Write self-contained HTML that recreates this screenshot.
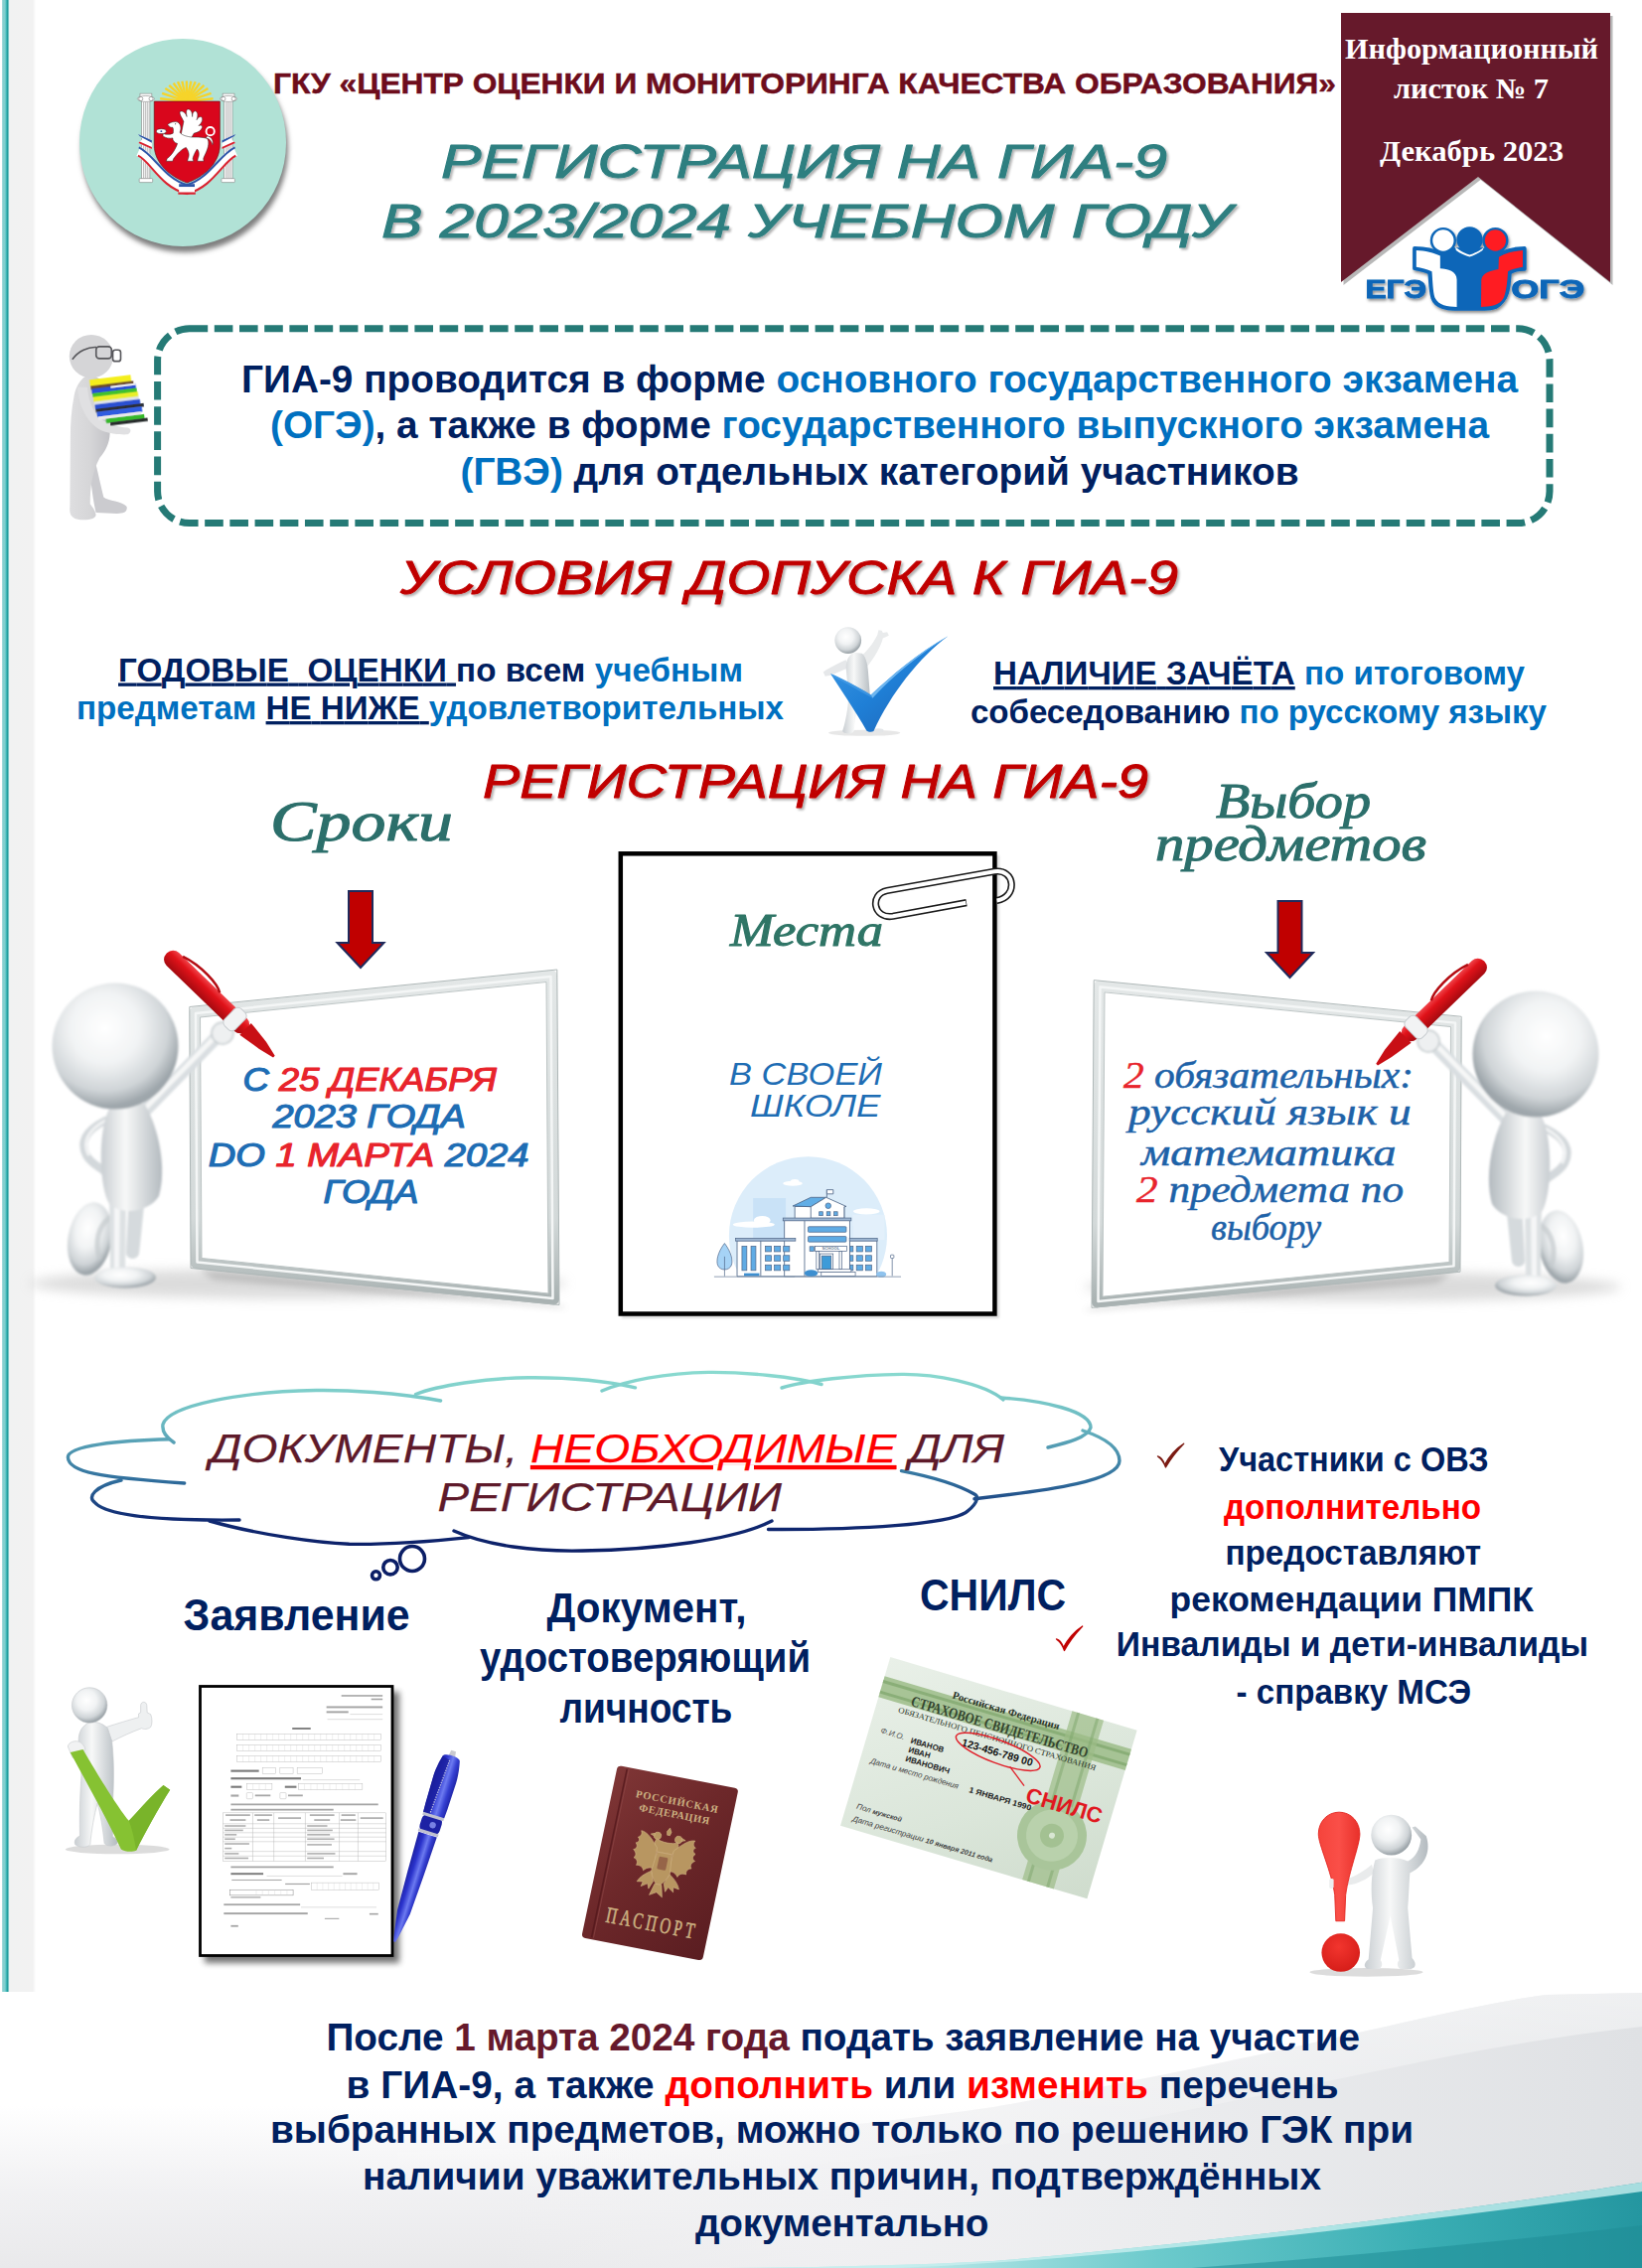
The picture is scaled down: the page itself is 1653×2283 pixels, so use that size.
<!DOCTYPE html>
<html lang="ru">
<head>
<meta charset="utf-8">
<title>Регистрация на ГИА-9</title>
<style>
*{margin:0;padding:0;box-sizing:border-box}
html,body{width:1653px;height:2283px;overflow:hidden;background:#fff}
body{position:relative;font-family:"Liberation Sans",sans-serif;color:#0a1f5c}
.abs{position:absolute}
.t{position:absolute;white-space:nowrap;line-height:1}
.c{text-align:center}
.b{font-weight:bold}
.navy{color:#0b1e5b}
.blue{color:#0a70c4}
.red{color:#ff0000}
.hand{font-family:"Liberation Sans",sans-serif;font-style:italic;font-weight:bold}
.script{font-family:"Liberation Serif",serif;font-style:italic;font-weight:bold}
u{text-decoration-thickness:3px;text-underline-offset:3px}
</style>
</head>
<body>
<!-- BACKGROUND -->
<div class="abs" id="bg-left" style="left:0;top:0;width:60px;height:2283px;background:linear-gradient(90deg,#ffffff 0px,#ffffff 1.6px,#a6dddd 2.2px,#86cece 3.2px,#7fcfcf 5px,#3fb8b8 6.4px,#1f9a9a 7.6px,#74c4c4 8.5px,#e6f1f1 9.3px,#f1f2f2 10.5px,#f2f2f2 33px,#fafafa 35px,#ffffff 36px)"></div>
<svg class="abs" id="bg-bottom" style="left:0;top:2000px" width="1653" height="283" viewBox="0 2000 1653 283">
<defs>
<linearGradient id="gw" gradientUnits="userSpaceOnUse" x1="500" y1="0" x2="1653" y2="0"><stop offset="0" stop-color="#f3f3f4" stop-opacity="0"/><stop offset=".3" stop-color="#f1f1f3" stop-opacity=".8"/><stop offset=".6" stop-color="#ebecee"/><stop offset="1" stop-color="#dfe1e4"/></linearGradient>
<linearGradient id="gl" gradientUnits="userSpaceOnUse" x1="0" y1="2120" x2="0" y2="2283"><stop offset="0" stop-color="#efeff1" stop-opacity="0"/><stop offset=".5" stop-color="#f0f0f2" stop-opacity=".9"/><stop offset="1" stop-color="#e9e9eb"/></linearGradient>
<linearGradient id="gt" gradientUnits="userSpaceOnUse" x1="900" y1="2283" x2="1653" y2="2200"><stop offset="0" stop-color="#bfeaea"/><stop offset=".35" stop-color="#6ccacc"/><stop offset=".7" stop-color="#3aaeb4"/><stop offset="1" stop-color="#2496a0"/></linearGradient>
<linearGradient id="gfade" x1="0" y1="0" x2="0" y2="1"><stop offset="0" stop-color="#fff" stop-opacity="1"/><stop offset="1" stop-color="#fff" stop-opacity="0"/></linearGradient>
</defs>
<rect x="0" y="2005" width="1653" height="278" fill="#fff"/>
<rect x="0" y="2120" width="1200" height="163" fill="url(#gl)"/>
<path d="M1653,2006 L1557,2008 C1450,2022 1300,2068 1000,2121 C800,2150 600,2160 400,2166 L400,2283 L1653,2283Z" fill="url(#gw)"/>
<path d="M1653,2006 L1557,2008 C1450,2022 1300,2068 1000,2121 C800,2150 600,2160 400,2166 L400,2200 C600,2194 800,2186 1000,2160 C1300,2110 1450,2062 1653,2040Z" fill="url(#gfade)" opacity=".5"/>
<path d="M1653,2196.800 C1500,2221 1250,2255 1000,2276 C900,2281 800,2283 700,2283 L1653,2283Z" fill="url(#gt)"/>
<path d="M1653,2196.800 C1500,2221 1250,2255 1000,2276 C900,2281 800,2283 700,2283 L900,2283 C1100,2276 1400,2240 1653,2206Z" fill="#c8efef" opacity=".8"/>
<path d="M1653,2240 C1500,2258 1350,2272 1200,2283 L1653,2283Z" fill="#1f8c96" opacity=".55"/>
</svg>

<!-- HEADER -->
<div class="abs" id="emblem-circle" style="left:79.800px;top:39px;width:208.600px;height:208.600px;border-radius:50%;background:#b1e2d6;box-shadow:2px 6px 5px rgba(0,0,0,.5)"></div>
<!--EMBLEM-->
<svg class="abs" id="emblem" style="left:120px;top:70px" width="130" height="130" viewBox="0 0 1642 1642">
<!-- sun -->
<g fill="#f6d42a">
<circle cx="857" cy="405" r="118"/>
<g stroke="#f6d42a" stroke-width="30">
<line x1="857" y1="405" x2="520" y2="370"/><line x1="857" y1="405" x2="545" y2="300"/><line x1="857" y1="405" x2="585" y2="240"/><line x1="857" y1="405" x2="635" y2="200"/><line x1="857" y1="405" x2="690" y2="172"/><line x1="857" y1="405" x2="745" y2="156"/><line x1="857" y1="405" x2="800" y2="148"/><line x1="857" y1="405" x2="857" y2="145"/><line x1="857" y1="405" x2="914" y2="148"/><line x1="857" y1="405" x2="969" y2="156"/><line x1="857" y1="405" x2="1024" y2="172"/><line x1="857" y1="405" x2="1079" y2="200"/><line x1="857" y1="405" x2="1129" y2="240"/><line x1="857" y1="405" x2="1169" y2="300"/><line x1="857" y1="405" x2="1194" y2="370"/>
</g></g>
<!-- columns -->
<g fill="#fff" stroke="#8a8a8a" stroke-width="8">
<rect x="285" y="400" width="105" height="990"/><rect x="1335" y="400" width="105" height="990"/>
<rect x="255" y="1385" width="170" height="50" rx="10"/><rect x="1300" y="1385" width="170" height="50" rx="10"/>
<rect x="265" y="305" width="150" height="40"/><rect x="1315" y="305" width="150" height="40"/>
<ellipse cx="340" cy="372" rx="108" ry="38"/><ellipse cx="1390" cy="372" rx="108" ry="38"/>
</g>
<g stroke="#8f8f8f" stroke-width="9"><line x1="312" y1="415" x2="312" y2="1380"/><line x1="338" y1="415" x2="338" y2="1380"/><line x1="364" y1="415" x2="364" y2="1380"/><line x1="1362" y1="415" x2="1362" y2="1380"/><line x1="1388" y1="415" x2="1388" y2="1380"/><line x1="1414" y1="415" x2="1414" y2="1380"/></g>
<g fill="none" stroke="#777" stroke-width="7"><circle cx="275" cy="372" r="26"/><circle cx="405" cy="372" r="26"/><circle cx="1325" cy="372" r="26"/><circle cx="1455" cy="372" r="26"/></g>
<!-- ribbon -->
<g fill="none" stroke-linecap="butt">
<path d="M245,1040 C420,1120 560,1450 860,1520 C1160,1450 1300,1120 1478,1040" stroke="#fff" stroke-width="120"/>
<path d="M250,990 C440,1080 590,1400 860,1465 C1130,1400 1280,1080 1472,990" stroke="#2d55a8" stroke-width="26"/>
<path d="M240,1095 C400,1170 530,1500 860,1580 C1190,1500 1320,1170 1482,1095" stroke="#d9222f" stroke-width="26"/>
</g>
<path d="M240,820 L415,900 L415,1010 L245,935 L300,880 Z" fill="#fff"/><path d="M240,820 L415,900 L415,930 L262,850Z" fill="#2d55a8"/><path d="M245,935 L415,1010 L415,985 L262,915Z" fill="#d9222f"/>
<path d="M1482,820 L1307,900 L1307,1010 L1477,935 L1422,880 Z" fill="#fff"/><path d="M1482,820 L1307,900 L1307,930 L1460,850Z" fill="#2d55a8"/><path d="M1477,935 L1307,1010 L1307,985 L1460,915Z" fill="#d9222f"/>
<rect x="760" y="1480" width="200" height="100" fill="#fff"/><rect x="760" y="1455" width="200" height="36" fill="#2d55a8"/><rect x="750" y="1560" width="220" height="28" fill="#d9222f"/>
<!-- shield -->
<path d="M445,405 L1280,405 L1280,960 C1280,1200 1060,1370 862,1440 C664,1370 445,1200 445,960 Z" fill="#d9061c" stroke="#6a0d12" stroke-width="8"/>
<!-- griffin -->
<g fill="#fff" stroke="#222" stroke-width="6" stroke-linejoin="round">
<path d="M1100,870 C1190,880 1180,980 1190,950 C1200,900 1170,850 1120,845 Z"/>
<circle cx="1158" cy="785" r="52" fill="none" stroke="#fff" stroke-width="24"/>
<path d="M820,660 C790,600 760,560 775,535 C810,520 850,560 860,600 C850,540 850,500 880,505 C920,510 930,560 930,600 C930,550 950,520 975,530 C1005,550 1000,600 985,640 C1010,600 1040,590 1055,615 C1065,650 1040,690 1010,715 C1040,700 1060,710 1055,740 C1040,780 1000,800 950,810 L900,900 L780,860 Z"/>
<path d="M615,700 C650,670 700,655 745,670 C790,700 790,760 770,800 C800,840 860,850 920,860 C1000,860 1080,860 1120,880 C1150,920 1130,990 1110,1040 C1095,1080 1075,1110 1070,1135 L1075,1165 L995,1165 L1000,1135 C1020,1090 1020,1040 990,1010 C960,1060 940,1100 935,1135 L945,1165 L868,1165 L875,1135 C900,1080 880,1030 850,990 C790,1010 730,1080 690,1135 L680,1165 L598,1165 L610,1130 C660,1100 720,1010 740,940 C700,930 680,900 680,870 C640,880 590,870 555,845 L560,815 C600,830 650,830 685,810 C690,780 690,750 680,735 C660,740 640,730 615,700 Z"/>
<ellipse cx="535" cy="785" rx="62" ry="30"/>
</g>
<circle cx="535" cy="785" r="12" fill="#2d55a8"/><circle cx="715" cy="692" r="7" fill="#222"/>
</svg>
<!-- BANNER -->
<svg class="abs" id="banner" style="left:1340px;top:0px" width="300" height="300" viewBox="1340 0 300 300">
<polygon points="1350,13 1621,13 1621,284 1488,178 1350,284" fill="#000" opacity=".28" transform="translate(2.5,3)"/>
<polygon points="1350,13 1621,13 1621,284 1488,178 1350,284" fill="#66192b"/>
</svg>
<!--EGELOGO-->
<svg class="abs" id="egelogo" style="left:1360px;top:210px" width="250" height="120" viewBox="0 0 1642 788">
<defs><filter id="egs" x="-10%" y="-10%" width="120%" height="130%"><feDropShadow dx="8" dy="14" stdDeviation="9" flood-color="#000" flood-opacity=".45"/></filter></defs>
<g filter="url(#egs)">
<g fill="#0a66b8" font-family="'Liberation Sans',sans-serif" font-weight="bold" font-size="172" stroke="#0a66b8" stroke-width="6">
<text x="95" y="590" textLength="405" lengthAdjust="spacingAndGlyphs">ЕГЭ</text>
<text x="1060" y="590" textLength="485" lengthAdjust="spacingAndGlyphs">ОГЭ</text>
</g>
<path d="M420,262 C480,262 550,275 592,300 L592,270 L975,270 L975,305 C1020,280 1090,262 1148,262 L1148,400 C1110,400 1070,410 1050,425 C1045,520 1040,600 960,650 C920,665 880,662 860,662 L700,662 C640,665 560,650 540,590 C525,540 525,470 520,425 C495,410 450,400 420,395 Z" fill="#0a66b8" stroke="#0a66b8" stroke-width="24" stroke-linejoin="round"/>
<path d="M432,275 C490,278 550,290 590,312 L590,395 C640,400 700,410 700,470 L700,650 C640,650 580,640 555,590 C540,540 540,470 535,415 C505,400 465,390 432,385 Z" fill="#fff"/>
<path d="M1136,275 C1080,280 1020,295 978,320 L975,400 C930,410 870,420 862,470 L860,650 C920,650 985,640 1010,590 C1030,540 1035,470 1038,415 C1065,400 1105,390 1136,385 Z" fill="#ff1a22"/>
<circle cx="610" cy="210" r="78" fill="#fff" stroke="#0a66b8" stroke-width="16"/>
<circle cx="955" cy="210" r="78" fill="#ff1a22" stroke="#0a66b8" stroke-width="16"/>
<circle cx="785" cy="205" r="86" fill="#0a66b8"/>
<path d="M690,255 C730,285 760,300 785,305 C810,300 850,280 880,255 L870,275 C840,295 810,312 785,318 C760,312 720,295 695,275 Z" fill="#fff"/>
</g>
</svg>
<!-- DASHED BOX -->
<svg class="abs" id="dbox" style="left:150px;top:322px" width="1425" height="216" viewBox="150 322 1425 216">
<rect x="158.600" y="330.800" width="1401.400" height="195.800" rx="32" ry="32" fill="none" stroke="#257a76" stroke-width="7" stroke-dasharray="18.600 6.600"/>
</svg>
<!--GRAPHICS-->
<svg class="abs" id="gfx" style="left:0;top:0" width="1653" height="2283" viewBox="0 0 1653 2283">
<defs>
<radialGradient id="sph" cx=".42" cy=".36" r=".62"><stop offset="0" stop-color="#ffffff"/><stop offset=".45" stop-color="#f1f3f4"/><stop offset=".8" stop-color="#cfd4d7"/><stop offset="1" stop-color="#9ea6ab"/></radialGradient>
<radialGradient id="sphR" cx=".58" cy=".36" r=".62"><stop offset="0" stop-color="#ffffff"/><stop offset=".45" stop-color="#f1f3f4"/><stop offset=".8" stop-color="#cfd4d7"/><stop offset="1" stop-color="#9ea6ab"/></radialGradient>
<linearGradient id="bod" x1="0" y1="0" x2="1" y2="0"><stop offset="0" stop-color="#c9ced2"/><stop offset=".4" stop-color="#f7f8f8"/><stop offset="1" stop-color="#b4bbc0"/></linearGradient>
<linearGradient id="bodR" x1="1" y1="0" x2="0" y2="0"><stop offset="0" stop-color="#c9ced2"/><stop offset=".4" stop-color="#f7f8f8"/><stop offset="1" stop-color="#b4bbc0"/></linearGradient>
<linearGradient id="gry" x1="0" y1="0" x2="1" y2="0"><stop offset="0" stop-color="#dcdcde"/><stop offset=".5" stop-color="#d2d2d4"/><stop offset="1" stop-color="#c4c4c7"/></linearGradient>
<linearGradient id="penr" x1="0" y1="0" x2="0" y2="1"><stop offset="0" stop-color="#f0444a"/><stop offset=".35" stop-color="#e01219"/><stop offset="1" stop-color="#a50a10"/></linearGradient>
<linearGradient id="chk" x1="0" y1="0" x2="1" y2="1"><stop offset="0" stop-color="#3f9be6"/><stop offset=".5" stop-color="#1f7fd6"/><stop offset="1" stop-color="#1f5fb0"/></linearGradient>
<linearGradient id="frm" x1="0" y1="0" x2="0" y2="1"><stop offset="0" stop-color="#e3e7e7"/><stop offset=".75" stop-color="#d3d9d9"/><stop offset="1" stop-color="#a9b2b2"/></linearGradient>
<filter id="blur6" x="-20%" y="-50%" width="140%" height="200%"><feGaussianBlur stdDeviation="6"/></filter>
<filter id="blur3" x="-20%" y="-20%" width="140%" height="140%"><feGaussianBlur stdDeviation="3"/></filter>
<filter id="blur1"><feGaussianBlur stdDeviation=".8"/></filter>
</defs>

<!-- C: figure with books -->
<svg x="50" y="320" width="120" height="220" viewBox="0 0 1237 2268">
<defs><linearGradient id="bm" x1="0" y1="0" x2="1" y2="0"><stop offset="0" stop-color="#dedee0"/><stop offset=".5" stop-color="#d6d6d8"/><stop offset="1" stop-color="#c2c2c6"/></linearGradient></defs>
<g filter="url(#blur6)">
<path d="M420,1300 C480,1500 520,1700 560,1860 C600,1900 760,1900 800,1960 C810,2010 770,2030 700,2030 L480,2020 C450,1900 430,1700 400,1500Z" fill="#cbcbcf"/>
<path d="M400,590 C330,620 275,700 255,800 C225,950 215,1100 215,1250 L210,1960 C200,2040 230,2090 320,2095 C420,2100 480,2080 480,2040 C470,1990 440,1960 420,1930 C420,1750 440,1600 520,1450 C580,1380 620,1300 625,1200 L600,800 C580,680 520,600 400,590Z" fill="url(#bm)"/>
<path d="M290,720 C300,900 380,1080 520,1160 C600,1200 720,1215 810,1210 C850,1190 850,1150 810,1140 C700,1130 600,1100 520,1040 C440,960 400,840 390,720Z" fill="#e0e0e2"/>
<ellipse cx="432" cy="398" rx="228" ry="224" fill="#d5d5d7"/>
</g>
<g transform="rotate(-7 700 850)" filter="url(#blur3)">
<rect x="440" y="610" width="430" height="70" fill="#f4ee1c"/><rect x="445" y="675" width="445" height="40" fill="#6b4a2a"/><rect x="450" y="705" width="460" height="55" fill="#2a4fd6"/><rect x="650" y="700" width="260" height="22" fill="#e6e9f2"/><rect x="455" y="752" width="460" height="42" fill="#3fc02f"/><rect x="458" y="790" width="465" height="55" fill="#e9ee2b"/><rect x="460" y="840" width="465" height="36" fill="#dfe2ea"/><rect x="465" y="872" width="470" height="52" fill="#2a50d0"/><rect x="468" y="918" width="500" height="36" fill="#2b2f38"/><rect x="475" y="950" width="470" height="55" fill="#2f5be0"/><rect x="480" y="1000" width="450" height="36" fill="#e8e8ea"/><rect x="560" y="1032" width="400" height="46" fill="#35b82a"/><rect x="600" y="1074" width="390" height="34" fill="#26292c"/>
</g>
<g fill="none" stroke="#58585c" stroke-width="17" filter="url(#blur3)"><path d="M235,430 C300,340 400,300 485,305"/><rect x="482" y="297" width="160" height="125" rx="34"/><rect x="655" y="332" width="82" height="118" rx="26"/></g>
</svg>

<!-- D: checkmark figure -->
<svg x="800" y="615" width="180" height="145" viewBox="0 0 1642 1323">
<ellipse cx="640" cy="1120" rx="330" ry="28" fill="#bbb" opacity=".35" filter="url(#blur6)"/>
<g filter="url(#blur3)">
<ellipse cx="770" cy="1100" rx="48" ry="20" fill="#e4e6e8"/>
<path d="M470,450 C420,470 350,510 290,540 L262,560 L280,600 L330,590 C390,570 450,540 500,520Z" fill="#e6e8ea"/>
<path d="M600,420 C660,380 720,300 760,220 L770,175 L800,180 L810,200 L850,195 L865,225 L810,250 C790,330 730,430 660,520Z" fill="#e9ebec"/>
<path d="M540,380 C480,420 465,480 475,560 C485,680 500,760 490,850 C480,950 460,1040 440,1100 C440,1135 540,1135 545,1100 C550,1020 560,940 580,880 L700,880 L675,560 C670,480 650,420 620,390Z" fill="url(#bod)"/>
<circle cx="490" cy="270" r="122" fill="url(#sph)"/>
</g>
<path d="M330,578 C420,610 580,700 700,770 C880,600 1140,380 1410,230 C1150,420 880,760 725,1105 C705,1115 675,1112 660,1100 C570,940 420,720 330,578Z" fill="url(#chk)"/>
<path d="M700,770 C880,600 1140,380 1410,230 C1140,400 900,600 715,800Z" fill="#7cc0f5" opacity=".85"/>
<path d="M330,578 C420,610 580,700 700,770 L715,800 C600,740 450,650 345,600Z" fill="#4aa0ea" opacity=".6"/>
</svg>

<!-- E: left whiteboard -->
<g id="boardL">
<rect x="43" y="950" width="530" height="372" fill="#fff"/>
<ellipse cx="300" cy="1292" rx="270" ry="15" fill="#b8b8b8" opacity=".5" filter="url(#blur6)"/>
<path d="M200,1277 L560,1313 L572,1317 L215,1288Z" fill="#777" opacity=".3" filter="url(#blur3)"/>
<polygon points="196,1019 555.500,982 557.500,1308 197.500,1271.500" fill="#fff" stroke="url(#frm)" stroke-width="11" stroke-linejoin="round"/>
<polygon points="190.800,1013.500 560.800,976 563,1313.500 192,1276.500" fill="none" stroke="#aeb7b7" stroke-width="1" stroke-linejoin="round"/>
<polygon points="201.500,1024 550,988.500 552,1302 203,1266.500" fill="none" stroke="#bcc4c4" stroke-width="1"/>
<polygon points="197,1020 554.500,983 556.500,1307 198.500,1270.500" fill="none" stroke="#f4f6f6" stroke-width="2.500" stroke-linejoin="round"/>
</g>
<g id="figL">
<g filter="url(#blur1)">
<path d="M106,1128 C86,1138 80,1150 87,1163 C92,1172 100,1174 106,1180" fill="none" stroke="#d3d8db" stroke-width="8" stroke-linecap="round"/>
<path d="M106,1128 C88,1138 83,1150 89,1162" fill="none" stroke="#f3f4f5" stroke-width="3" stroke-linecap="round"/>
<path d="M130,1200 L146,1204 L140,1262 C138,1270 126,1268 127,1260Z" fill="#d5dadd"/>
<ellipse cx="90.500" cy="1247" rx="22" ry="37" fill="url(#sph)" transform="rotate(10 90.500 1247)"/>
<path d="M110,1226 C99,1234 95,1250 100,1266" fill="none" stroke="#c4cacd" stroke-width="5" stroke-linecap="round" opacity=".7"/>
<path d="M140,1124 L222,1040" stroke="#d9dee1" stroke-width="13" stroke-linecap="round"/>
<path d="M142,1120 L221,1039" stroke="#f6f7f7" stroke-width="5" stroke-linecap="round"/>
<path d="M110,1205 L127,1205 L126,1280 L111,1280Z" fill="#dde1e3"/>
<path d="M115,1205 L121,1205 L120,1280 L115,1280Z" fill="#f5f6f7"/>
<ellipse cx="126" cy="1286" rx="31" ry="10.500" fill="url(#sph)"/>
<path d="M110,1116 C98,1140 100,1196 110,1212 C124,1224 150,1220 160,1204 C168,1176 160,1136 146,1112 C134,1106 118,1108 110,1116Z" fill="url(#bod)"/>
<circle cx="116" cy="1053" r="63.500" fill="url(#sph)"/>
<circle cx="224" cy="1040" r="11" fill="#eef0f1" stroke="#c5cbce" stroke-width="1.500"/>
</g>
<!-- pen -->
<g transform="translate(171,962) rotate(44)">
<rect x="-4" y="-8.500" width="112" height="18" rx="8.500" fill="url(#penr)"/>
<path d="M106,-8 L130,-5 L146,-1 L146,1.500 L130,5 L106,8.500Z" fill="#c80f15"/>
<path d="M10,-8.500 C30,-15 55,-13 62,-8" fill="none" stroke="#b30c12" stroke-width="2.500"/>
<rect x="84" y="-11.500" width="15" height="24" rx="5" fill="#f2f3f4" stroke="#c8cdd0" stroke-width="1"/>
</g>
</g>
<!--GFX2-->
<!-- G: right whiteboard (mirror of left) -->
<use href="#boardL" transform="translate(1662,33.100) scale(-1,.977)"/>
<use href="#figL" transform="translate(1662,8) scale(-1,1)"/>

<!-- F: center paper -->
<g id="paper">
<rect x="626" y="861" width="380" height="466" fill="#999" opacity=".35" filter="url(#blur1)"/>
<rect x="624.800" y="859.300" width="376.600" height="463.200" fill="#fff" stroke="#000" stroke-width="4.500"/>
<path d="M973,908.600 L899,922.300 C879,925.500 875,900 893,896.500 L1001,877.300 C1022,874 1025,903 1003.500,906.500" fill="none" stroke="#1a1a1a" stroke-width="7.200" stroke-linecap="butt"/>
<path d="M972.400,908.700 L899,922.300 C879,925.500 875,900 893,896.500 L1001,877.300 C1022,874 1025,903 1003.500,906.500" fill="none" stroke="#fff" stroke-width="4" stroke-linecap="butt"/>
</g>
<!-- school -->
<svg x="700" y="1150" width="230" height="150" viewBox="0 0 1642 1071">
<defs><clipPath id="skyc"><rect x="0" y="0" width="1642" height="962"/></clipPath></defs>
<circle cx="810" cy="670" r="568" fill="#dcedfa" clip-path="url(#skyc)"/>
<rect x="415" y="400" width="235" height="300" fill="#c9e2f7"/><rect x="1130" y="600" width="80" height="95" fill="#c9e2f7"/><rect x="1130" y="520" width="230" height="180" fill="#e3f0fb"/>
<g fill="#fff"><ellipse cx="700" cy="295" rx="70" ry="18"/><ellipse cx="715" cy="280" rx="30" ry="16"/><ellipse cx="420" cy="590" rx="150" ry="22"/><ellipse cx="480" cy="560" rx="60" ry="32"/><ellipse cx="1230" cy="495" rx="95" ry="22"/></g>
<g stroke="#4f6688" stroke-width="6" fill="#fff" stroke-linejoin="round">
<rect x="300" y="705" width="415" height="258"/><rect x="1110" y="705" width="195" height="258"/>
<rect x="640" y="560" width="470" height="403"/>
<rect x="715" y="460" width="355" height="90"/>
<polygon points="700,457 830,395 940,395 830,462" fill="#62aee6"/>
<polygon points="830,462 940,395 1085,460 1070,462 1070,545 830,545" />
<line x1="470" y1="705" x2="470" y2="960"/><line x1="785" y1="560" x2="785" y2="960"/>
<line x1="945" y1="340" x2="945" y2="396"/><rect x="945" y="340" width="46" height="30"/>
</g>
<g fill="#9db6d2" stroke="#4f6688" stroke-width="5"><rect x="290" y="688" width="430" height="20"/><rect x="1108" y="688" width="200" height="20"/><rect x="630" y="543" width="490" height="20"/></g>
<g fill="#5fabe4" stroke="#4f6688" stroke-width="5">
<rect x="335" y="745" width="35" height="175"/><rect x="400" y="745" width="35" height="175"/>
<rect x="503" y="745" width="44" height="40"/><rect x="568" y="745" width="44" height="40"/><rect x="633" y="745" width="44" height="40"/>
<rect x="503" y="812" width="44" height="40"/><rect x="568" y="812" width="44" height="40"/><rect x="633" y="812" width="44" height="40"/>
<rect x="503" y="880" width="44" height="40"/><rect x="568" y="880" width="44" height="40"/><rect x="633" y="880" width="44" height="40"/>
<rect x="1158" y="745" width="44" height="40"/><rect x="1223" y="745" width="44" height="40"/><rect x="1158" y="812" width="44" height="40"/><rect x="1223" y="812" width="44" height="40"/><rect x="1158" y="880" width="44" height="40"/><rect x="1223" y="880" width="44" height="40"/>
<rect x="1112" y="745" width="22" height="40"/><rect x="1112" y="812" width="22" height="40"/><rect x="1112" y="880" width="22" height="40"/>
<rect x="810" y="605" width="275" height="40" rx="6"/><rect x="810" y="675" width="275" height="40" rx="6"/>
<rect x="890" y="498" width="26" height="28"/><rect x="944" y="498" width="26" height="28"/><rect x="996" y="498" width="26" height="28"/>
<circle cx="955" cy="455" r="20"/>
<rect x="822" y="748" width="30" height="34"/>
</g>
<g stroke="#4f6688" stroke-width="5" fill="#fff"><rect x="860" y="745" width="228" height="36"/><rect x="870" y="782" width="20" height="130"/><rect x="1035" y="782" width="18" height="130"/><rect x="895" y="800" width="95" height="112"/><rect x="880" y="912" width="240" height="20"/><rect x="905" y="932" width="245" height="28"/></g>
<rect x="908" y="815" width="68" height="96" fill="#3d9bd8" stroke="#4f6688" stroke-width="5"/>
<text x="974" y="774" font-family="'Liberation Sans',sans-serif" font-size="30" font-weight="bold" fill="#6d7f99" text-anchor="middle">SCHOOL</text>
<g stroke="#4f6688" stroke-width="5"><path d="M210,725 C160,790 150,850 160,880 C175,925 245,925 260,880 C270,850 260,790 210,725Z" fill="#a6d3f6"/><line x1="210" y1="820" x2="210" y2="962"/><line x1="1415" y1="832" x2="1415" y2="960"/><rect x="1403" y="808" width="24" height="24" rx="5" fill="#fff"/></g>
<ellipse cx="1336" cy="948" rx="36" ry="22" fill="#8fc3ee"/><ellipse cx="832" cy="940" rx="48" ry="24" fill="#3d8fd0"/><rect x="350" y="940" width="110" height="20" fill="#3d8fd0"/>
<line x1="135" y1="965" x2="1478" y2="965" stroke="#7c8da6" stroke-width="6"/>
</svg>

<!-- H: cloud -->
<defs><linearGradient id="cl" gradientUnits="userSpaceOnUse" x1="0" y1="1380" x2="0" y2="1565"><stop offset="0" stop-color="#8adbd0"/><stop offset=".3" stop-color="#68b6c0"/><stop offset=".6" stop-color="#2f6d9c"/><stop offset=".8" stop-color="#102a72"/><stop offset="1" stop-color="#0b1e66"/></linearGradient></defs>
<g id="cloud" fill="none" stroke="url(#cl)" stroke-width="3.400" stroke-linecap="round">
<path d="M1008,1407 C1050,1410 1098,1420 1098,1437 C1095,1447 1075,1452 1055,1457 L1055,1540 L773,1540 L586,1561 L457,1541 L351,1554 L211,1531 L122,1490 L175,1452 L164,1433 L443,1410 Z" fill="#fff" stroke="none"/>
<path d="M170.600,1448.800 C120,1450 68,1455 68.400,1467 C69,1482 100,1487 185.700,1493"/>
<path d="M122,1490 C95,1496 88,1507 95,1512 C105,1524 150,1531 241,1530"/>
<path d="M211,1531 C260,1545 320,1553 351.500,1554.300 C400,1555 440,1551 472,1547.600"/>
<path d="M457,1541 C490,1556 540,1562 586,1561 C660,1560 740,1550 777,1531"/>
<path d="M773.500,1539.500 C860,1540 960,1535 974.500,1520.800 C985,1512 985,1506 981,1504 C960,1492 930,1485 907.500,1480.600"/>
<path d="M981,1508.700 C1060,1500 1127,1490 1127,1470.500 C1127,1455 1105,1445 1090,1440"/>
<path d="M1055,1457 C1075,1452 1095,1447 1098,1437 C1098,1420 1050,1410 1008,1407"/>
<path d="M1010,1409 C990,1392 940,1383 907.500,1383.400 C860,1384 810,1390 787,1397"/>
<path d="M827,1393.500 C800,1386 750,1381 713,1381.400 C670,1382 630,1390 606,1400"/>
<path d="M639.500,1396.800 C610,1390 570,1386.500 532,1386.800 C490,1387 440,1395 418.500,1403.500"/>
<path d="M443.600,1410 C400,1402 350,1399 318,1399.500 C240,1401 170,1415 164,1433.700 C163,1440 166,1446 175,1452"/>
<g stroke="#0b1e66" stroke-width="3.600" fill="#fff"><circle cx="415" cy="1569" r="12.500"/><circle cx="393" cy="1577.700" r="7.200"/><circle cx="378.500" cy="1585.800" r="4"/></g>
</g>

<!-- N: bullet checks -->
<path d="M1165.500,1466 C1168,1466.500 1171,1470 1172.500,1474.500 C1177,1466 1184,1458 1191.700,1453.200 C1185,1460 1178,1469 1173.500,1477 C1172,1473 1169,1468.500 1165.500,1466Z" fill="#7b1a12" stroke="#7b1a12" stroke-width="1.300" stroke-linejoin="round"/>
<path d="M1063.500,1650 C1066,1650.500 1069,1654 1070.500,1658.500 C1075,1650 1082,1642 1089.700,1637 C1083,1644 1076,1653 1071.500,1661.500 C1070,1657 1067,1652.500 1063.500,1650Z" fill="#c00000" stroke="#c00000" stroke-width="1.300" stroke-linejoin="round"/>
<!--GFX3-->
<!-- I: thumbs-up figure with green check -->
<svg x="50" y="1680" width="200" height="210" viewBox="0 0 1642 1724">
<ellipse cx="560" cy="1490" rx="430" ry="40" fill="#aaa" opacity=".4" filter="url(#blur6)"/>
<g filter="url(#blur3)" stroke="#c6cacd" stroke-width="5">
<path d="M470,480 C560,450 660,420 735,400 L735,370 L752,360 L752,300 C755,265 800,265 803,300 L806,360 L835,375 C850,410 848,460 835,480 C810,500 780,500 760,490 C680,520 590,560 515,600Z" fill="#eef0f1"/>
<path d="M330,440 C270,470 235,520 240,600 C245,700 260,800 262,880 C255,1000 245,1150 250,1380 C215,1395 200,1420 210,1450 C240,1480 320,1478 335,1450 C345,1330 370,1200 395,1110 C420,1200 440,1320 452,1440 C470,1470 540,1470 560,1440 C565,1415 545,1395 522,1385 L522,1100 C530,950 535,780 515,600 L480,490 C440,450 380,430 330,440Z" fill="url(#bod)"/>
<circle cx="330" cy="300" r="146" fill="url(#sph)"/>
<path d="M150,640 C160,605 200,590 240,600 C270,610 290,640 295,665 L190,735Z" fill="#f1f2f3"/>
</g>
<path d="M170,690 L275,665 C400,880 560,1140 655,1255 C740,1160 860,1030 940,960 L995,1000 C900,1150 790,1350 715,1500 C680,1515 620,1510 590,1490 C480,1250 300,930 170,690Z" fill="#86c232"/>
<path d="M655,1255 C740,1160 860,1030 940,960 L995,1000 C900,1150 790,1350 715,1500 C700,1400 680,1320 655,1255Z" fill="#79b42a"/>
</svg>

<!-- J: application form -->
<g id="form">
<rect x="206" y="1703" width="196" height="273" fill="#000" opacity=".55" filter="url(#blur3)"/>
<rect x="201.500" y="1697.500" width="193.500" height="271" fill="#fff" stroke="#000" stroke-width="2.800"/>
<svg x="190" y="1680" width="290" height="310" viewBox="0 0 1642 1755">
<g fill="#a5a5a5"><rect x="870" y="148" width="235" height="9"/><rect x="1040" y="168" width="65" height="9"/><rect x="785" y="212" width="320" height="11"/><rect x="785" y="240" width="125" height="11"/><rect x="590" y="335" width="105" height="9" fill="#666"/>
<rect x="240" y="575" width="160" height="12" fill="#7a7a7a"/><rect x="240" y="618" width="400" height="12" fill="#7a7a7a"/><rect x="240" y="666" width="62" height="12" fill="#7a7a7a"/><rect x="548" y="666" width="66" height="12" fill="#7a7a7a"/><rect x="240" y="716" width="45" height="12"/><rect x="378" y="716" width="88" height="10"/><rect x="566" y="716" width="84" height="10"/>
<rect x="240" y="767" width="840" height="10"/><rect x="240" y="797" width="585" height="10"/>
<rect x="240" y="1124" width="585" height="10"/><rect x="240" y="1162" width="185" height="11" fill="#7a7a7a"/><rect x="880" y="1162" width="80" height="11"/><rect x="245" y="1200" width="285" height="6" fill="#aaa"/><rect x="550" y="1222" width="140" height="7"/><rect x="240" y="1298" width="170" height="7"/>
<rect x="200" y="1338" width="435" height="10"/><rect x="200" y="1388" width="478" height="11"/><rect x="1030" y="1392" width="50" height="9"/><rect x="775" y="1420" width="82" height="6"/><rect x="240" y="1460" width="42" height="10"/></g>
<g stroke="#b5b5b5" stroke-width="2.5" fill="none">
<line x1="920" y1="258" x2="1105" y2="258"/><line x1="790" y1="287" x2="1105" y2="287"/>
<rect x="275" y="370" width="820" height="35"/><rect x="275" y="432" width="820" height="35"/><rect x="275" y="495" width="820" height="35"/>
<rect x="420" y="563" width="75" height="34"/><rect x="520" y="563" width="75" height="34"/><rect x="618" y="563" width="142" height="34"/>
<line x1="650" y1="632" x2="975" y2="632"/><rect x="330" y="655" width="145" height="34"/><rect x="625" y="655" width="365" height="34"/>
<rect x="330" y="705" width="35" height="35" rx="5"/><rect x="520" y="705" width="35" height="35" rx="5"/>
<rect x="195" y="820" width="930" height="275"/>
<line x1="365" y1="820" x2="365" y2="1095"/><line x1="485" y1="820" x2="485" y2="1095"/><line x1="665" y1="820" x2="665" y2="1095"/><line x1="858" y1="820" x2="858" y2="1095"/><line x1="965" y1="820" x2="965" y2="1095"/>
<line x1="195" y1="882" x2="1125" y2="882"/><line x1="195" y1="908" x2="1125" y2="908"/><line x1="195" y1="933" x2="1125" y2="933"/><line x1="195" y1="958" x2="1125" y2="958"/><line x1="195" y1="984" x2="1125" y2="984"/><line x1="195" y1="1040" x2="1125" y2="1040"/><line x1="195" y1="1066" x2="1125" y2="1066"/>
<line x1="445" y1="1180" x2="875" y2="1180"/><rect x="700" y="1218" width="385" height="42"/><rect x="235" y="1258" width="360" height="32" stroke="#777"/><line x1="640" y1="1358" x2="1070" y2="1358"/>
</g>
<g stroke="#d0d0d0" stroke-width="2"><path d="M309,370v35m34,-35v35m34,-35v35m34,-35v35m34,-35v35m34,-35v35m34,-35v35m34,-35v35m34,-35v35m34,-35v35m34,-35v35m34,-35v35m34,-35v35m34,-35v35m34,-35v35m34,-35v35m34,-35v35m34,-35v35m34,-35v35m34,-35v35m34,-35v35m34,-35v35m34,-35v35" fill="none"/><path d="M309,432v35m34,-35v35m34,-35v35m34,-35v35m34,-35v35m34,-35v35m34,-35v35m34,-35v35m34,-35v35m34,-35v35m34,-35v35m34,-35v35m34,-35v35m34,-35v35m34,-35v35m34,-35v35m34,-35v35m34,-35v35m34,-35v35m34,-35v35m34,-35v35m34,-35v35m34,-35v35" fill="none"/><path d="M309,495v35m34,-35v35m34,-35v35m34,-35v35m34,-35v35m34,-35v35m34,-35v35m34,-35v35m34,-35v35m34,-35v35m34,-35v35m34,-35v35m34,-35v35m34,-35v35m34,-35v35m34,-35v35m34,-35v35m34,-35v35m34,-35v35m34,-35v35m34,-35v35m34,-35v35m34,-35v35" fill="none"/><path d="M660,655v34m36,-34v34m36,-34v34m36,-34v34m36,-34v34m36,-34v34m36,-34v34m36,-34v34m36,-34v34M366,655v34m36,-34v34m36,-34v34M732,1218v42m32,-42v42m32,-42v42m32,-42v42m32,-42v42m32,-42v42m32,-42v42m32,-42v42m32,-42v42m32,-42v42m32,-42v42M385,1258v32m35,-32v32m35,-32v32m35,-32v32m35,-32v32m35,-32v32" fill="none"/></g>
<g fill="#b0b0b0"><rect x="210" y="828" width="140" height="10"/><rect x="235" y="856" width="90" height="10"/><rect x="375" y="828" width="100" height="10"/><rect x="390" y="856" width="70" height="10"/><rect x="510" y="845" width="130" height="10"/><rect x="690" y="828" width="140" height="10"/><rect x="715" y="856" width="90" height="10"/><rect x="870" y="828" width="80" height="10"/><rect x="865" y="856" width="88" height="10"/><rect x="978" y="845" width="130" height="10"/>
<rect x="205" y="890" width="120" height="9"/><rect x="205" y="915" width="105" height="9"/><rect x="205" y="940" width="68" height="9"/><rect x="205" y="965" width="60" height="9"/><rect x="205" y="992" width="140" height="9"/><rect x="205" y="1018" width="40" height="9"/><rect x="205" y="1048" width="80" height="9"/><rect x="205" y="1074" width="135" height="9"/>
<rect x="675" y="890" width="115" height="9"/><rect x="675" y="915" width="145" height="9"/><rect x="675" y="940" width="130" height="9"/><rect x="675" y="965" width="155" height="9"/><rect x="675" y="997" width="140" height="9"/><rect x="675" y="1048" width="160" height="9"/><rect x="675" y="1074" width="95" height="9"/></g>
</svg>
</g>
<!-- blue pen -->
<g id="bluepen" transform="translate(456.600,1762.600) rotate(17.200)">
<defs><linearGradient id="bp" x1="0" y1="0" x2="1" y2="0"><stop offset="0" stop-color="#1c20a0"/><stop offset=".3" stop-color="#2a33cc"/><stop offset=".58" stop-color="#6c7af0"/><stop offset=".78" stop-color="#3540d2"/><stop offset="1" stop-color="#1f25a8"/></linearGradient></defs>
<path d="M-2.500,0 L2.500,0 L3.500,7 L-3.500,7Z" fill="#c9c9cf"/>
<path d="M-9,8 C-8,4 8,4 9,8 C11,16 12,24 12,30 L11.500,58 L11,68 L-11,68 L-11.500,58 L-12,30 C-12,24 -11,16 -9,8Z" fill="url(#bp)"/>
<path d="M-9,8 C-11,16 -12,24 -12,30 L-11,68 L-4,68 L-1,10Z" fill="#1a1e9a" opacity=".75"/>
<path d="M-1,10 L-4,67" stroke="#b8bbe0" stroke-width="1.300" stroke-dasharray="1.400 1.200"/>
<rect x="-10.500" y="68" width="21" height="19" rx="6" fill="#1d22a4"/>
<circle cx="2" cy="77.500" r="3.200" fill="#8f9af2" opacity=".8"/>
<rect x="-11" y="67.500" width="22" height="3" fill="#bfc1cf"/><rect x="-10.500" y="84.500" width="21" height="3" fill="#bfc1cf"/>
<path d="M-9.600,88 L9.600,88 L8.400,129 L6.700,170 L2.500,194 L1,201 L-1,201 L-2.500,194 L-6.700,170 L-8.400,129Z" fill="url(#bp)"/>
</g>

<!-- K: passport -->
<g id="passport" transform="translate(621.800,1777) rotate(10.900) skewX(-1)">
<defs><linearGradient id="pp" x1="0" y1="0" x2="1" y2="1"><stop offset="0" stop-color="#7f3636"/><stop offset=".45" stop-color="#6d282a"/><stop offset="1" stop-color="#5a1d21"/></linearGradient></defs>
<rect x="0" y="0" width="124" height="177" rx="4" fill="url(#pp)"/>
<line x1="10" y1="2" x2="10" y2="175" stroke="#54181c" stroke-width="1.600" opacity=".8"/>
<line x1="12" y1="2" x2="12" y2="175" stroke="#904a4a" stroke-width="1" opacity=".6"/>
<g fill="#cbb081" font-family="'Liberation Serif',serif" font-weight="bold">
<text x="24" y="28" font-size="10.500" textLength="84" lengthAdjust="spacing">РОССИЙСКАЯ</text>
<text x="30" y="41" font-size="10.500" textLength="72" lengthAdjust="spacing">ФЕДЕРАЦИЯ</text>
<text x="20" y="0" font-size="15" textLength="90" lengthAdjust="spacing" transform="translate(0,157) scale(1,1.500)" font-weight="normal" stroke="#cbb081" stroke-width=".4">ПАСПОРТ</text>
</g>
<g fill="#bfa066" stroke="#d8c08a" stroke-width=".6" opacity=".92" transform="translate(-1,-6)">
<path d="M63.500,62 l2.200,-4 l2.200,4 l-0.800,3.500 l-2.800,0Z"/>
<circle cx="55" cy="68" r="3.600"/><circle cx="76.500" cy="68" r="3.600"/>
<path d="M52,66 l-4,1.500 l4,1.500Z M79.500,66 l4,1.500 l-4,1.500Z"/>
<path d="M55,71 C52,76 54,80 58,84 L73,84 C77,80 79,76 76.500,71 C72,74 60,74 55,71Z"/>
<path d="M57,80 C50,72 44,66 38,66 C40,70 38,72 36,73 C39,75 38,78 35,79 C38,82 37,85 34,86 C38,89 38,92 36,94 C40,95 41,98 40,101 C44,100 47,102 48,105 C51,101 55,100 58,102Z"/>
<path d="M74,80 C81,72 87,66 93,66 C91,70 93,72 95,73 C92,75 93,78 96,79 C93,82 94,85 97,86 C93,89 93,92 95,94 C91,95 90,98 91,101 C87,100 84,102 83,105 C80,101 76,100 73,102Z"/>
<path d="M58,84 L73,84 L75,104 C73,110 70,114 65.500,118 C61,114 58,110 56,104Z"/>
<path d="M56,104 C50,108 46,112 44,117 L50,116 L49,121 L55,117 L57,122 L60,114Z M75,104 C81,108 85,112 87,117 L81,116 L82,121 L76,117 L74,122 L71,114Z"/>
<path d="M62,116 L69,116 L72,128 L65.500,124 L59,128Z"/>
</g>
<rect x="60" y="82" width="9" height="13" rx="1.500" fill="#6d282a" opacity=".45"/>
</g>

<!-- L: SNILS card -->
<g id="snils" transform="translate(896.300,1668.100) rotate(16.500)">
<defs><linearGradient id="sn" x1="0" y1="0" x2="1" y2="1"><stop offset="0" stop-color="#e9f0e8"/><stop offset=".6" stop-color="#dbe6da"/><stop offset="1" stop-color="#cfdccd"/></linearGradient></defs>
<rect x="0" y="0" width="259" height="177" fill="url(#sn)"/>
<rect x="0" y="20" width="259" height="22" fill="#9cbc88" opacity=".85"/><rect x="0" y="24" width="259" height="3" fill="#7ea56b" opacity=".7"/><rect x="0" y="35" width="259" height="3" fill="#7ea56b" opacity=".7"/>
<rect x="191" y="0" width="33" height="177" fill="#9cbc88" opacity=".7"/><rect x="196" y="0" width="3" height="177" fill="#7ea56b" opacity=".5"/><rect x="216" y="0" width="3" height="177" fill="#7ea56b" opacity=".5"/>
<circle cx="207" cy="126" r="35" fill="#a9c59a"/><circle cx="207" cy="126" r="26" fill="#b9d1ac"/><circle cx="207" cy="126" r="12" fill="#a3c192"/><circle cx="207" cy="126" r="3" fill="#d8e6d2"/>
<g font-family="'Liberation Serif',serif" fill="#2a3528" font-weight="bold">
<text x="71" y="22" font-size="10.500" textLength="112" lengthAdjust="spacingAndGlyphs">Российская Федерация</text>
<text x="33" y="41" font-size="15" textLength="185" lengthAdjust="spacingAndGlyphs" fill="#34452f">СТРАХОВОЕ СВИДЕТЕЛЬСТВО</text>
<text x="23" y="51" font-size="8" font-weight="normal" textLength="207" lengthAdjust="spacingAndGlyphs">ОБЯЗАТЕЛЬНОГО ПЕНСИОННОГО СТРАХОВАНИЯ</text>
</g>
<g font-family="'Liberation Sans',sans-serif" fill="#222" font-size="8">
<text x="11.700" y="76" font-style="italic" fill="#555">Ф.И.О.</text>
<text x="43.500" y="77" font-weight="bold">ИВАНОВ</text><text x="44" y="86.500" font-weight="bold">ИВАН</text><text x="43.800" y="96" font-weight="bold">ИВАНОВИЧ</text>
<text x="10.600" y="108" font-style="italic" fill="#444" textLength="92" lengthAdjust="spacingAndGlyphs">Дата и место рождения</text><text x="114" y="108" font-weight="bold" textLength="65" lengthAdjust="spacingAndGlyphs">1 ЯНВАРЯ 1990</text>
<text x="10.300" y="156" font-style="italic" fill="#444">Пол  <tspan font-weight="bold" font-size="7">мужской</tspan></text>
<text x="9.800" y="169" font-style="italic" fill="#444" textLength="147" lengthAdjust="spacingAndGlyphs">Дата регистрации  <tspan font-weight="bold" font-size="7">10 января 2011 года</tspan></text>
<text x="93.600" y="65" font-weight="bold" font-size="10.500" textLength="74" lengthAdjust="spacingAndGlyphs" fill="#111">123-456-789 00</text>
</g>
<ellipse cx="131" cy="60.500" rx="45" ry="11.500" fill="none" stroke="#e0202a" stroke-width="1.500" transform="rotate(4 131 60.500)"/>
<line x1="146.700" y1="71.500" x2="166" y2="86" stroke="#e0202a" stroke-width="1.300"/>
<text x="170.700" y="101" font-family="'Liberation Sans',sans-serif" font-weight="bold" font-size="22" fill="#e0181f" textLength="79" lengthAdjust="spacingAndGlyphs">СНИЛС</text>
</g>

<!-- M: exclamation figure -->
<svg x="1290" y="1800" width="180" height="200" viewBox="0 0 1642 1824">
<defs><linearGradient id="ex" x1="0" y1="0" x2="1" y2="0"><stop offset="0" stop-color="#f5443c"/><stop offset=".5" stop-color="#fa4f48"/><stop offset="1" stop-color="#e8302a"/></linearGradient>
<radialGradient id="exd" cx=".45" cy=".35" r=".7"><stop offset="0" stop-color="#f2352e"/><stop offset="1" stop-color="#d41c18"/></radialGradient></defs>
<ellipse cx="780" cy="1690" rx="520" ry="40" fill="#aaa" opacity=".4" filter="url(#blur6)"/>
<path d="M830,700 C760,760 680,810 610,830 L610,890 C700,880 780,840 850,780Z" fill="#e9ebec"/>
<path d="M860,660 C940,630 1080,630 1160,670 C1230,640 1270,560 1280,470 L1200,360 L1230,350 L1330,440 C1370,560 1340,700 1180,780 C1170,900 1170,1000 1160,1100 L1200,1560 C1240,1600 1240,1650 1190,1660 L1090,1660 C1060,1640 1060,1600 1080,1580 L1000,1170 L910,1580 C930,1600 930,1640 900,1660 L790,1660 C750,1640 760,1600 800,1570 L840,1100 C820,960 820,800 860,660Z" fill="url(#bod)"/>
<circle cx="1010" cy="430" r="186" fill="url(#sph)"/>
<path d="M530,220 C640,220 720,310 720,420 C720,520 620,760 590,980 L580,1220 L500,1220 L490,980 C460,760 340,520 340,420 C340,310 420,220 530,220Z" fill="url(#ex)" stroke="#e2241e" stroke-width="8"/>
<circle cx="545" cy="1510" r="176" fill="url(#exd)"/>
<rect x="440" y="830" width="40" height="90" rx="14" fill="#eceeef"/>
</svg>
<!--GFX4-->
<!-- arrows -->
<g fill="#c00000" stroke="#1f2a5c" stroke-width="2" stroke-linejoin="miter">
<path d="M351,897 L375,897 L375,949 L386.5,949 L363,974 L339.5,949 L351,949Z"/>
<path d="M1286.5,907 L1310.5,907 L1310.5,959 L1322,959 L1298.5,984 L1275,959 L1286.5,959Z"/>
</g>

</svg>
<!--TEXT-->
<!-- TEXT OVERLAY -->
<svg class="abs" id="txt" style="left:0;top:0" width="1653" height="2283" viewBox="0 0 1653 2283">
<defs>
<filter id="ts" x="-5%" y="-20%" width="110%" height="150%"><feDropShadow dx="2" dy="2" stdDeviation="1.2" flood-color="#000" flood-opacity=".3"/></filter>
</defs>
<style>
.sb{font-family:"Liberation Sans",sans-serif;font-weight:bold}
.hb{font-family:"Liberation Sans",sans-serif;font-weight:bold;font-style:italic}
.hr{font-family:"Liberation Sans",sans-serif;font-style:italic}
.sc{font-family:"Liberation Serif",serif;font-weight:bold;font-style:italic}
.si{font-family:"Liberation Serif",serif;font-style:italic}
.sr{font-family:"Liberation Serif",serif;font-weight:bold}
.rw{stroke:#1e62a8;stroke-width:.5}.rw .wr{stroke:#e8242c}
.lw{stroke:#1e6db4;stroke-width:1.2}.lw .wr{stroke:#e8242c}
.nv{fill:#002060}.bl{fill:#0070c0}.rd{fill:#ff0000}.wb{fill:#1e6db4}.wr{fill:#e8242c}
</style>
<!-- header -->
<text class="sb" x="275" y="93.500" font-size="30" fill="#6e0d1c" stroke="#6e0d1c" stroke-width=".5" textLength="1070" lengthAdjust="spacingAndGlyphs">ГКУ «ЦЕНТР ОЦЕНКИ И МОНИТОРИНГА КАЧЕСТВА ОБРАЗОВАНИЯ»</text>
<g filter="url(#ts)" fill="#2e7f80" stroke="#2e7f80" stroke-width="1" stroke-linejoin="round">
<text class="hr" x="444" y="179" font-size="49" textLength="731" lengthAdjust="spacingAndGlyphs">РЕГИСТРАЦИЯ НА ГИА-9</text>
<text class="hr" x="384" y="239" font-size="49" textLength="856" lengthAdjust="spacingAndGlyphs">В 2023/2024 УЧЕБНОМ ГОДУ</text>
</g>
<g class="sr" fill="#fff" font-size="29">
<text x="1354" y="59.4" textLength="255" lengthAdjust="spacingAndGlyphs">Информационный</text>
<text x="1403" y="99" textLength="156" lengthAdjust="spacingAndGlyphs">листок № 7</text>
<text x="1389" y="162" textLength="185" lengthAdjust="spacingAndGlyphs">Декабрь 2023</text>
</g>
<!-- box -->
<g class="sb nv" font-size="38.8">
<text x="243" y="394.800" textLength="1285" lengthAdjust="spacing">ГИА-9 проводится в форме <tspan class="bl">основного государственного экзамена</tspan></text>
<text x="272" y="441.300" textLength="1227" lengthAdjust="spacing"><tspan class="bl">(ОГЭ)</tspan>, а также в форме <tspan class="bl">государственного выпускного экзамена</tspan></text>
<text x="463.500" y="487.800" textLength="844" lengthAdjust="spacing"><tspan class="bl">(ГВЭ)</tspan> для отдельных категорий участников</text>
</g>
<!-- conditions -->
<g filter="url(#ts)" fill="#c00000" stroke="#c00000" stroke-width=".9" stroke-linejoin="round">
<text class="hr" x="403" y="598" font-size="48" textLength="783" lengthAdjust="spacingAndGlyphs">УСЛОВИЯ ДОПУСКА К ГИА-9</text>
<text class="hr" x="486" y="803" font-size="48" textLength="670" lengthAdjust="spacingAndGlyphs">РЕГИСТРАЦИЯ НА ГИА-9</text>
</g>
<g class="sb nv" font-size="33.15" style="white-space:pre">
<text x="119" y="685.5" textLength="629" lengthAdjust="spacing"><tspan text-decoration="underline">ГОДОВЫЕ&#160; ОЦЕНКИ </tspan>по всем <tspan class="bl">учебным</tspan></text>
<text x="77" y="724" textLength="712" lengthAdjust="spacing"><tspan class="bl">предметам</tspan> <tspan text-decoration="underline">НЕ НИЖЕ </tspan><tspan class="bl">удовлетворительных</tspan></text>
<text x="1000" y="689" textLength="535" lengthAdjust="spacing"><tspan text-decoration="underline">НАЛИЧИЕ ЗАЧЁТА</tspan> <tspan class="bl">по итоговому</tspan></text>
<text x="977" y="728" textLength="580" lengthAdjust="spacing">собеседованию <tspan class="bl">по русскому языку</tspan></text>
</g>
<!-- script headings -->
<g class="si" fill="#2c6f6b" stroke="#2c6f6b" stroke-width="1.1" stroke-linejoin="round">
<text x="272" y="846" font-size="56" textLength="184" lengthAdjust="spacingAndGlyphs">Сроки</text>
<text x="1224" y="823" font-size="50" textLength="156" lengthAdjust="spacingAndGlyphs">Выбор</text>
<text x="1163" y="866" font-size="50" textLength="273" lengthAdjust="spacingAndGlyphs">предметов</text>
<text x="735" y="952" font-size="46" textLength="154" lengthAdjust="spacingAndGlyphs" fill="#2f7566" stroke="#2f7566">Места</text>
</g>
<!-- left whiteboard -->
<g class="hr wb lw" font-size="33.500" stroke-linejoin="round">
<text x="244.400" y="1098" textLength="255.600" lengthAdjust="spacingAndGlyphs">С <tspan class="wr">25 ДЕКАБРЯ</tspan></text>
<text x="274.500" y="1135" textLength="194.400" lengthAdjust="spacingAndGlyphs">2023 ГОДА</text>
<text x="209.700" y="1174.200" textLength="322.800" lengthAdjust="spacingAndGlyphs">DО <tspan class="wr">1 МАРТА</tspan> 2024</text>
<text x="325.400" y="1211.300" textLength="96" lengthAdjust="spacingAndGlyphs">ГОДА</text>
</g>
<!-- center -->
<g class="hr" fill="#1e6db4" font-size="31">
<text x="734" y="1091.7" textLength="154" lengthAdjust="spacingAndGlyphs">В СВОЕЙ</text>
<text x="755" y="1124" textLength="131.5" lengthAdjust="spacingAndGlyphs">ШКОЛЕ</text>
</g>
<!-- right whiteboard -->
<g class="si rw" fill="#1e62a8" font-size="38">
<text x="1131" y="1094.6" textLength="292" lengthAdjust="spacingAndGlyphs"><tspan class="wr">2</tspan> обязательных:</text>
<text x="1136" y="1132" textLength="284.6" lengthAdjust="spacingAndGlyphs">русский язык и</text>
<text x="1149" y="1172.6" textLength="256.5" lengthAdjust="spacingAndGlyphs">математика</text>
<text x="1144" y="1210" textLength="269" lengthAdjust="spacingAndGlyphs"><tspan class="wr">2</tspan> предмета по</text>
<text x="1219" y="1248" textLength="111" lengthAdjust="spacingAndGlyphs">выбору</text>
</g>
<!-- cloud text -->
<g class="hr" fill="#5e1a2a" font-size="40.500" stroke="#5e1a2a" stroke-width=".25">
<text x="211" y="1472" textLength="800" lengthAdjust="spacingAndGlyphs">ДОКУМЕНТЫ, <tspan fill="#ff0000" stroke="#ff0000" text-decoration="underline">НЕОБХОДИМЫЕ</tspan> ДЛЯ</text>
<text x="440.6" y="1520.8" textLength="346.4" lengthAdjust="spacingAndGlyphs">РЕГИСТРАЦИИ</text>
</g>
<!-- items -->
<g class="sb nv">
<text x="184.6" y="1641.300" font-size="43.500" textLength="228" lengthAdjust="spacingAndGlyphs">Заявление</text>
<text x="550.5" y="1633" font-size="43" textLength="201" lengthAdjust="spacingAndGlyphs">Документ,</text>
<text x="483" y="1683" font-size="43" textLength="333" lengthAdjust="spacingAndGlyphs">удостоверяющий</text>
<text x="563.4" y="1733.700" font-size="43" textLength="174" lengthAdjust="spacingAndGlyphs">личность</text>
<text x="926" y="1621" font-size="45" textLength="147" lengthAdjust="spacingAndGlyphs">СНИЛС</text>
</g>
<g class="sb nv" font-size="35">
<text x="1227" y="1480.8" textLength="271.5" lengthAdjust="spacingAndGlyphs">Участники с ОВЗ</text>
<text x="1232" y="1528.6" textLength="259" lengthAdjust="spacingAndGlyphs" class="sb rd">дополнительно</text>
<text x="1233.4" y="1575.4" textLength="257.6" lengthAdjust="spacingAndGlyphs">предоставляют</text>
<text x="1177.6" y="1621.7" textLength="366.2" lengthAdjust="spacingAndGlyphs">рекомендации ПМПК</text>
<text x="1123.8" y="1667" textLength="475.2" lengthAdjust="spacingAndGlyphs">Инвалиды и дети-инвалиды</text>
<text x="1244.5" y="1714.7" textLength="236.5" lengthAdjust="spacingAndGlyphs">- справку МСЭ</text>
</g>
<!-- bottom -->
<g class="sb nv" font-size="38.75">
<text x="328.5" y="2063.7" textLength="1040.5" lengthAdjust="spacing">После <tspan fill="#66192b">1 марта 2024 года</tspan> подать заявление на участие</text>
<text x="348.6" y="2111.6" textLength="999" lengthAdjust="spacing">в ГИА-9, а также <tspan class="rd">дополнить</tspan> или <tspan class="rd">изменить</tspan> перечень</text>
<text x="272" y="2157" textLength="1151" lengthAdjust="spacing">выбранных предметов, можно только по решению ГЭК при</text>
<text x="365" y="2203.8" textLength="965" lengthAdjust="spacing">наличии уважительных причин, подтверждённых</text>
<text x="700" y="2251" textLength="295.5" lengthAdjust="spacing">документально</text>
</g>
</svg>
</body>
</html>
